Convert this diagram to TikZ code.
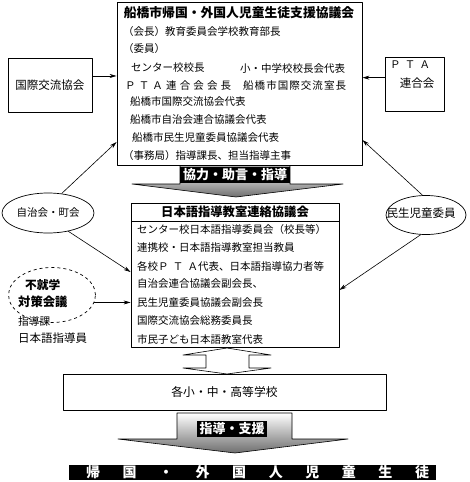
\documentclass[tikz,border=0pt]{standalone}
\usepackage{fontspec}
\setmainfont{Noto Sans CJK JP}
\usetikzlibrary{arrows.meta,calc,positioning,shapes.geometric}
\definecolor{kikokuInk}{HTML}{000000}
\definecolor{kikokuGray}{HTML}{6E6E6E}
\definecolor{kikokuPaper}{HTML}{FFFFFF}

\begin{document}
\begin{tikzpicture}[x=1pt,y=-1pt,>={Stealth[length=7pt,width=4pt]},line join=round]
\path[fill=kikokuPaper] (0,0) rectangle (469,482);
\useasboundingbox (0,0) rectangle (469,482);
\tikzset{box/.style={draw=kikokuInk,line width=0.9pt,inner sep=0pt},conn/.style={draw=kikokuInk,line width=0.6pt,->},item/.style={anchor=west,inner sep=0pt,font=\fontsize{10.5}{12}\selectfont},head/.style={inner sep=0pt,font=\bfseries\fontsize{12.8}{14}\selectfont},oval/.style={ellipse,draw=kikokuInk,line width=0.7pt,inner sep=0pt},tag/.style={fill=kikokuInk,text=white,inner sep=0pt,font=\bfseries\fontsize{13}{15}\selectfont},blockarrow/.style={draw=kikokuInk,line width=0.6pt,top color=white,bottom color=kikokuGray}}
\node[box,minimum width=245pt,minimum height=163pt] (council) at (239.5,83.5) {};
\node[head] (councilTitle) at (239,13) {船橋市帰国・外国人児童生徒支援協議会};
\node[item] (chair) at (123,32) {（会長）教育委員会学校教育部長};
\node[item] (members) at (123,49) {（委員）};
\node[item] (memberA) at (131,68) {センター校校長};
\node[item] (memberB) at (240,68) {小・中学校校長会代表};
\node[item] (memberC) at (125,86) {{\addfontfeature{LetterSpace=30}ＰＴＡ連合会会長}};
\node[item] (memberD) at (243,86) {{\addfontfeature{LetterSpace=10}船橋市国際交流室長}};
\node[item] (memberE) at (130,102) {船橋市国際交流協会代表};
\node[item] (memberF) at (130,120) {船橋市自治会連合協議会代表};
\node[item] (memberG) at (132,138) {船橋市民生児童委員協議会代表};
\node[item] (office) at (123,156) {（事務局）指導課長、担当指導主事};
\node[box,minimum width=84pt,minimum height=54pt,font=\fontsize{11.5}{13}\selectfont] (kokusai) at (50,85) {国際交流協会};
\node[box,minimum width=59pt,minimum height=54pt] (pta) at (414.5,84) {};
\node[item,font=\fontsize{10.5}{12}\selectfont] (ptaName) at (390,65) {{\addfontfeature{LetterSpace=40}ＰＴＡ}};
\node[inner sep=0pt,font=\fontsize{11.5}{13}\selectfont] (ptaUnion) at (417,83) {連合会};
\draw[conn] (kokusai.12) -- (kokusai.12 -| council.west);
\draw[conn] (pta.168) -- (pta.168 -| council.east);
\path[blockarrow] (180,166) -- (290,166) -- (290,184) -- (343,184) -- (236,197) -- (132,184) -- (180,184) -- cycle;
\node[tag,minimum width=110pt,minimum height=16pt] (kyoryoku) at (235,175) {協力・助言・指導};
\node[box,minimum width=208pt,minimum height=144pt] (nihongo) at (235,275) {};
\node[head,font=\bfseries\fontsize{12.3}{14}\selectfont] (nihongoTitle) at (235,212) {日本語指導教室連絡協議会};
\draw[box] (131,221) -- (339,221);
\node[item] (itemA) at (137,230) {センター校日本語指導委員会（校長等）};
\node[item] (itemB) at (137,248) {連携校・日本語指導教室担当教員};
\node[item] (itemC) at (137,266) {各校{\addfontfeature{LetterSpace=40}ＰＴＡ}代表、日本語指導協力者等};
\node[item] (itemD) at (137,284) {自治会連合協議会副会長、};
\node[item] (itemE) at (137,303) {民生児童委員協議会副会長};
\node[item] (itemF) at (137,321) {国際交流協会総務委員長};
\node[item] (itemG) at (137,339) {市民子ども日本語教室代表};
\node[oval,minimum width=92pt,minimum height=40pt,font=\fontsize{10.5}{12}\selectfont] (jichi) at (48,213) {自治会・町会};
\node[oval,minimum width=80pt,minimum height=39pt] (minsei) at (426,215) {};
\node[inner sep=0pt,font=\fontsize{11.5}{13}\selectfont] (minseiText) at (421,213) {民生児童委員};
\node[oval,dashed,minimum width=87pt,minimum height=55pt] (fushugaku) at (52,295) {};
\node[anchor=west,inner sep=0pt,font=\bfseries\fontsize{11.7}{13}\selectfont] (fushugakuA) at (25,285) {不就学};
\node[anchor=west,inner sep=0pt,font=\bfseries\fontsize{12.3}{13}\selectfont] (fushugakuB) at (18,302) {対策会議};
\node[anchor=west,inner sep=0pt,font=\fontsize{10.7}{12}\selectfont] (fushugakuC) at (18,321) {指導課};
\node[anchor=west,inner sep=0pt,font=\fontsize{11.5}{12}\selectfont] (fushugakuD) at (18,338) {日本語指導員};
\draw[conn] (jichi.55) -- ([yshift=-58.5pt]council.west);
\draw[conn] (jichi.-42) -- ([yshift=3pt]nihongo.west);
\draw[conn] (fushugaku.-10) -- (fushugaku.-10 -| nihongo.west);
\draw[conn] (minsei.100) -- ([yshift=-56.5pt]council.east);
\draw[conn] (minsei.-105) -- ([yshift=-15pt]nihongo.east);
\path[draw=kikokuInk,fill=white,line width=0.6pt] (227,348) -- (271,355) -- (249,355) -- (249,368) -- (271,368) -- (227,374) -- (183,368) -- (206,368) -- (206,355) -- (183,355) -- cycle;
\node[box,minimum width=323pt,minimum height=36pt,font=\fontsize{11.8}{13}\selectfont] (gakko) at (224.5,392) {各小・中・高等学校};
\path[blockarrow] (177,413) -- (292,413) -- (292,439) -- (348,439) -- (235,453) -- (118,439) -- (177,439) -- cycle;
\node[tag,minimum width=70pt,minimum height=16pt] (shien) at (232,429) {指導・支援};
\node[fill=kikokuInk,minimum width=367pt,minimum height=15pt,inner sep=0pt] (seito) at (252.5,472.5) {};
\node[text=white,inner sep=0pt,font=\bfseries\fontsize{14}{15}\selectfont] (seitoText) at (257.5,472.5) {\makebox[343pt]{帰\hfill 国\hfill ・\hfill 外\hfill 国\hfill 人\hfill 児\hfill 童\hfill 生\hfill 徒}};
\end{tikzpicture}
\end{document}
